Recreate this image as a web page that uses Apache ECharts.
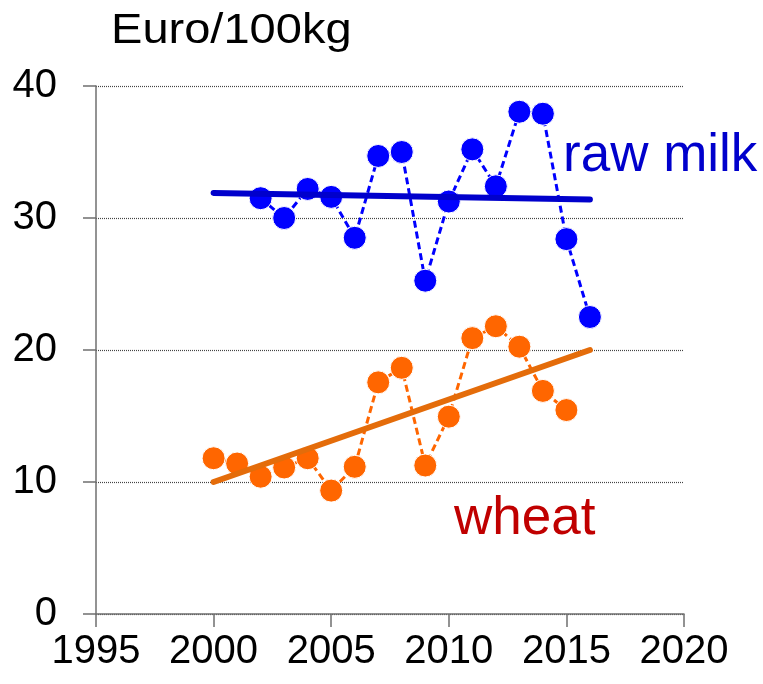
<!DOCTYPE html>
<html><head><meta charset="utf-8">
<script src="https://cdn.jsdelivr.net/npm/echarts@6/dist/echarts.min.js"></script>
<style>html,body{margin:0;padding:0;background:#fff}#c{width:763px;height:684px}</style>
</head><body><div id="c"></div>
<script>
var milkYears = [2002,2003,2004,2005,2006,2007,2008,2009,2010,2011,2012,2013,2014,2015,2016];
var milkValues = [31.5,30.0,32.2,31.6,28.5,34.7,35.0,25.25,31.25,35.2,32.4,38.05,37.9,28.4,22.5];
var wheatYears = [2000,2001,2002,2003,2004,2005,2006,2007,2008,2009,2010,2011,2012,2013,2014,2015];
var wheatValues = [11.8,11.4,10.4,11.1,11.8,9.35,11.15,17.55,18.65,11.25,14.95,20.9,21.8,20.25,16.9,15.45];
var milkTrendYears = [2000,2016];
var milkTrendValues = [31.9,31.4];
var wheatTrendYears = [2000,2016];
var wheatTrendValues = [10.0,20.0];
var xTicks = [1995,2000,2005,2010,2015,2020];
var yTicks = [0,10,20,30,40];
var unitLabel = 'Euro/100kg';
var milkLabel = 'raw milk';
var wheatLabel = 'wheat';

function pairs(xs, ys){ return xs.map(function(x,i){ return [x, ys[i]]; }); }
var FONT = '"Liberation Sans", Arial, sans-serif';

var chart = echarts.init(document.getElementById('c'), null, {renderer:'canvas'});
chart.setOption({
  animation:false,
  backgroundColor:'#fff',
  grid:{left:96, right:79, top:86, bottom:70, containLabel:false},
  xAxis:{
    type:'value', min:xTicks[0], max:xTicks[xTicks.length-1], interval:5,
    axisLine:{show:true, onZero:false, lineStyle:{color:'#6f6f6f', width:1.5}},
    axisTick:{show:true, length:13, lineStyle:{color:'#6f6f6f', width:1.5}},
    splitLine:{show:false},
    axisLabel:{formatter:function(v){return String(v);}, fontSize:40, fontFamily:FONT, color:'#000', margin:18}
  },
  yAxis:{
    type:'value', min:yTicks[0], max:yTicks[yTicks.length-1], interval:10,
    axisLine:{show:true, lineStyle:{color:'#6f6f6f', width:1.5}},
    axisTick:{show:true, length:13, lineStyle:{color:'#6f6f6f', width:1.5}},
    splitLine:{show:true, lineStyle:{color:'#444', type:[1,1], width:1.2}},
    axisLabel:{fontSize:40, fontFamily:FONT, color:'#000', margin:39}
  },
  series:[
    {type:'line', data:pairs(milkYears, milkValues), symbol:'circle', symbolSize:23,
      itemStyle:{color:'#0000ff', borderColor:'#ffffff', borderWidth:1},
      lineStyle:{color:'#0000ff', width:3, type:[7,4]}, z:2},
    {type:'line', data:pairs(wheatYears, wheatValues), symbol:'circle', symbolSize:23,
      itemStyle:{color:'#ff6600', borderColor:'#ffffff', borderWidth:1},
      lineStyle:{color:'#ff6600', width:3, type:[7,4]}, z:2},
    {type:'line', data:pairs(milkTrendYears, milkTrendValues), symbol:'none',
      lineStyle:{color:'#0000cc', width:6, cap:'round'}, z:3},
    {type:'line', data:pairs(wheatTrendYears, wheatTrendValues), symbol:'none',
      lineStyle:{color:'#e46c0a', width:6, cap:'round'}, z:3}
  ],
  graphic:[
    {type:'text', x:111, y:31, scaleX:1.12, originX:0, originY:0, style:{text:unitLabel, font:'42px '+FONT, fill:'#000', verticalAlign:'middle'}},
    {type:'text', x:563, y:156, style:{text:milkLabel, font:'53px '+FONT, fill:'#0000cc', verticalAlign:'middle'}},
    {type:'text', x:454, y:519, style:{text:wheatLabel, font:'53px '+FONT, fill:'#c00000', verticalAlign:'middle'}}
  ]
});
</script></body></html>
